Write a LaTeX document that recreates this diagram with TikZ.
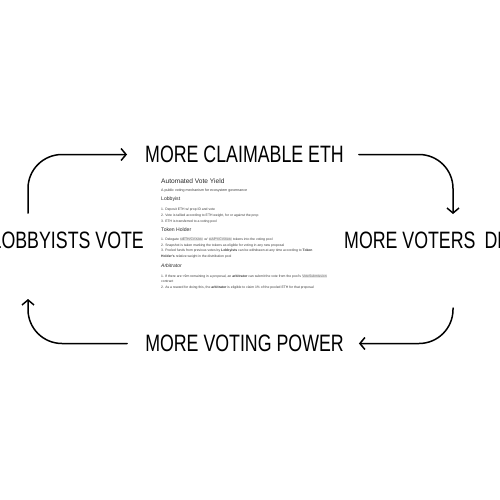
\documentclass[tikz,border=0pt]{standalone}
\usepackage{fontspec}
\usetikzlibrary{arrows.meta}
\setmainfont{Liberation Sans}
\newfontfamily\bigfont[FakeStretch=0.75]{Liberation Sans}
\definecolor{bodytxt}{HTML}{3A3A3A}
\definecolor{headtxt}{HTML}{2A2A2A}
\definecolor{codebg}{HTML}{EDEDED}
\definecolor{codefg}{HTML}{666666}
\newcommand\codebit[1]{{\setlength\fboxsep{0.3pt}\colorbox{codebg}{\color{codefg}#1}}}
\tikzset{
  bigtxt/.style={font=\bigfont\fontsize{23.7}{28}\selectfont, inner sep=0pt, text=black},
  ttl/.style={anchor=base west, inner sep=0pt, text=headtxt, font=\fontsize{6.6}{8}\selectfont},
  sub/.style={anchor=base west, inner sep=0pt, text=bodytxt, font=\fontsize{3.6}{4.5}\selectfont},
  hd/.style={anchor=base west, inner sep=0pt, text=headtxt, font=\fontsize{5.1}{6}\selectfont},
  itm/.style={anchor=base west, inner sep=0pt, text=bodytxt, font=\fontsize{3.4}{4.2}\selectfont},
  arr/.style={line width=1.5pt, line cap=round, rounded corners=34pt,
    -{Straight Barb[length=5pt,width=12pt,line width=1.5pt]}}
}
\begin{document}
\begin{tikzpicture}[x=1pt,y=-1pt]
\useasboundingbox (0,0) rectangle (500,500);
\clip (0,0) rectangle (500,500);
\fill[white] (0,0) rectangle (500,500);
% big labels
\node[bigtxt] (top) at (244.5,154.5) {MORE CLAIMABLE ETH};
\node[bigtxt] (bot) at (244.5,343.5) {MORE VOTING POWER};
\node[bigtxt, anchor=east] (lobby) at (144,240.5) {LOBBYISTS VOTE};
\node[bigtxt, anchor=west] (voters) at (344,240.5) {MORE VOTERS\hspace{9pt}DELEGATE};
% connector ends
\coordinate (lt) at (28,213);
\coordinate (rt) at (453,214);
\coordinate (rb) at (453,308);
\coordinate (lb) at (28,299);
\draw[arr, shorten >=18pt] (lt) |- (top.west);
\draw[arr, shorten <=15pt] (top.east) -| (rt);
\draw[arr, shorten >=15pt] (rb) |- (bot.east);
\draw[arr, shorten <=18pt] (bot.west) -| (lb);
% central document
\node[ttl] (t0) at (161,183.4) {Automated Vote Yield};
\node[sub] (t1) at (161,191.8) {A public voting mechanism for ecosystem governance};
\node[hd] (h1) at (161,200.8) {Lobbyist};
\node[itm] (l1) at (161,210.2) {1. Deposit ETH w/ prop ID and vote};
\node[itm] (l2) at (161,216.2) {2. Vote is tallied according to ETH weight, for or against the prop};
\node[itm] (l3) at (161,222.2) {3. ETH is transferred to a voting pool};
\node[hd] (h2) at (161,231.8) {Token Holder};
\node[itm] (k1) at (161,240.2) {1. Delegate \codebit{stETH/CVX/etc} w/ \codebit{stAPY/CVX/etc} tokens into the voting pool};
\node[itm] (k2) at (161,246.2) {2. Snapshot is taken marking the tokens as eligible for voting in any new proposal};
\node[itm] (k3) at (161,251.7) {3. Pooled funds from previous votes by \textbf{Lobbyists} can be withdrawn at any time according to \textbf{Token}};
\node[itm] (k3b) at (161,257.7) {\textbf{Holder's} relative weight in the distribution pool};
\node[hd, font=\itshape\fontsize{5}{6}\selectfont] (h3) at (161,267.8) {Arbitrator};
\node[itm] (a1) at (161,277.2) {1. If there are <9m remaining in a proposal, an \textbf{arbitrator} can submit the vote from the pool's \codebit{VoteSubmission}};
\node[itm] (a1b) at (161,282.7) {contract};
\node[itm] (a2) at (161,288.2) {2. As a reward for doing this, the \textbf{arbitrator} is eligible to claim 1\% of the pooled ETH for that proposal};
\end{tikzpicture}
\end{document}
